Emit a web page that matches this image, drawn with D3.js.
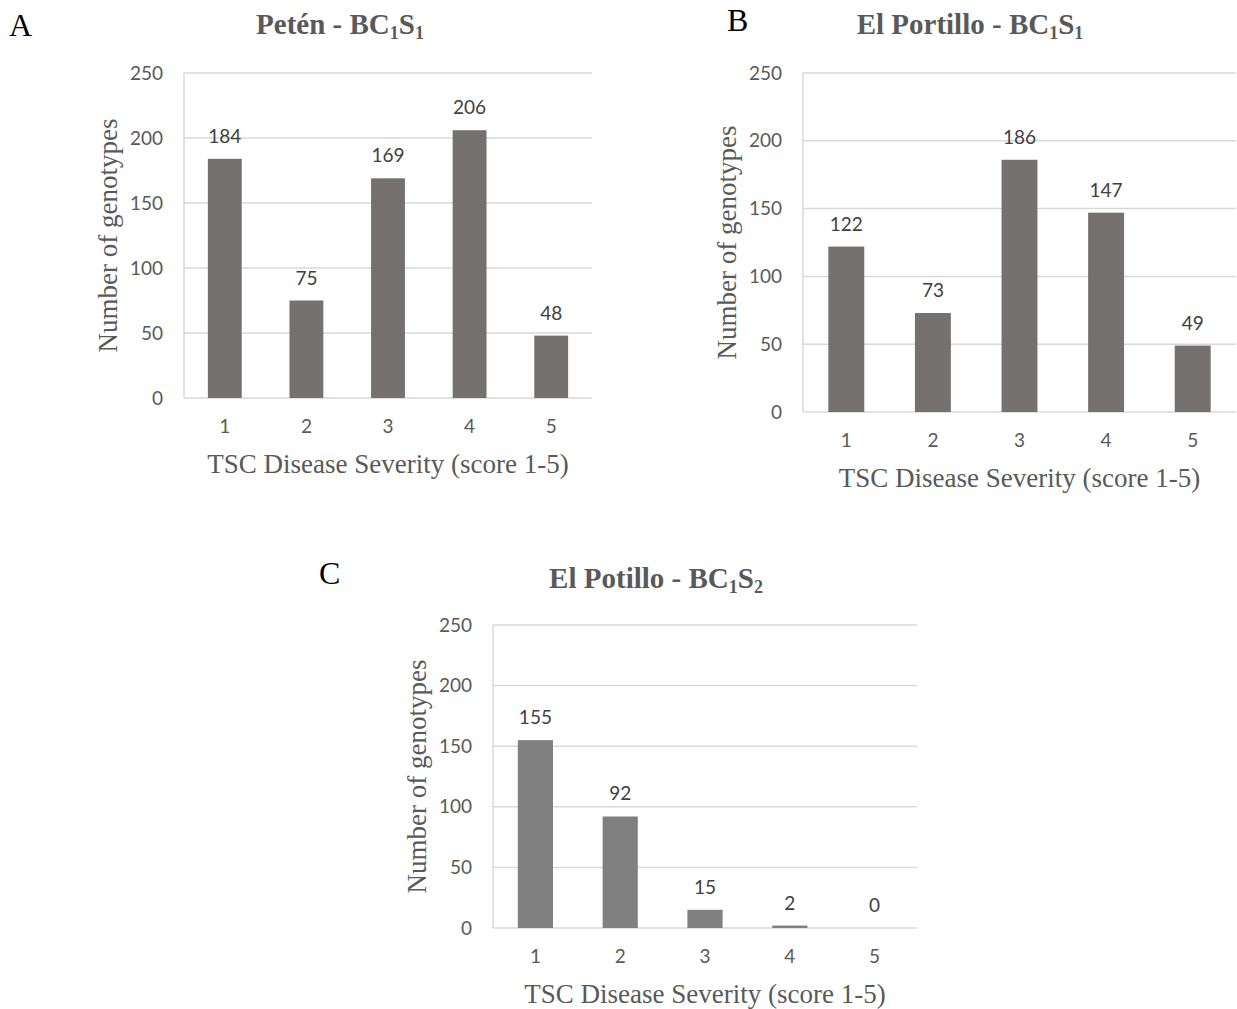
<!DOCTYPE html>
<html>
<head>
<meta charset="utf-8">
<script src="https://cdn.jsdelivr.net/npm/d3@7"></script>
<style>
  html, body { margin: 0; padding: 0; background: #fff; }
  svg { display: block; }
</style>
</head>
<body>
<svg id="chart" width="1237" height="1009"></svg>
<script>
// ---------------- data ----------------
const categories = ["1", "2", "3", "4", "5"];
const petenBC1S1 = [184, 75, 169, 206, 48];
const portilloBC1S1 = [122, 73, 186, 147, 49];
const potilloBC1S2 = [155, 92, 15, 2, 0];
const yTickValues = [0, 50, 100, 150, 200, 250];
const yMax = 250;
const xAxisTitle = "TSC Disease Severity (score 1-5)";
const yAxisTitle = "Number of genotypes";

const panels = [
  { letter: "A", place: "Petén", sub1: "1", sub2: "1", values: petenBC1S1,
    x0: 184, x1: 592, yTop: 73, yBot: 398, titleX: 340, titleY: 34, letterX: 9, letterY: 36,
    barColor: "#767171" },
  { letter: "B", place: "El Portillo", sub1: "1", sub2: "1", values: portilloBC1S1,
    x0: 803, x1: 1236, yTop: 73, yBot: 412, titleX: 970, titleY: 34, letterX: 727, letterY: 31,
    barColor: "#767171" },
  { letter: "C", place: "El Potillo", sub1: "1", sub2: "2", values: potilloBC1S2,
    x0: 493, x1: 917, yTop: 625, yBot: 928, titleX: 656, titleY: 588, letterX: 319, letterY: 584,
    barColor: "#808080" }
];

const svg = d3.select("#chart");
const sansFont = "Lato, 'Open Sans', sans-serif";
const serifFont = "'Liberation Serif', 'DejaVu Serif', serif";
const textGray = "#595959";

panels.forEach(p => {
  const g = svg.append("g");
  const x = d3.scaleBand().domain(categories).range([p.x0, p.x1])
    .paddingInner(0.585).paddingOuter(0.2925);
  const y = d3.scaleLinear().domain([0, yMax]).range([p.yBot, p.yTop]);

  // gridlines
  g.append("g")
    .selectAll("line").data(yTickValues).join("line")
    .attr("x1", p.x0).attr("x2", p.x1)
    .attr("y1", d => y(d)).attr("y2", d => y(d))
    .attr("stroke", "#d9d9d9").attr("stroke-width", 1.5);

  // left axis line
  g.append("line")
    .attr("x1", p.x0).attr("x2", p.x0).attr("y1", p.yTop).attr("y2", p.yBot)
    .attr("stroke", "#d9d9d9").attr("stroke-width", 1.5);

  // y tick labels via axis
  const yAxis = d3.axisLeft(y).tickValues(yTickValues).tickSize(0).tickPadding(21);
  const ya = g.append("g").attr("transform", `translate(${p.x0},0)`).call(yAxis);
  ya.select(".domain").remove();
  ya.selectAll("text").attr("font-family", sansFont).attr("font-size", 19)
    .attr("fill", textGray);

  // x tick labels via axis
  const xAxis = d3.axisBottom(x).tickSize(0).tickPadding(22);
  const xa = g.append("g").attr("transform", `translate(0,${p.yBot})`).call(xAxis);
  xa.select(".domain").remove();
  xa.selectAll("text").attr("font-family", sansFont).attr("font-size", 19)
    .attr("fill", textGray);

  // bars
  const data = categories.map((c, i) => ({ c, v: p.values[i] }));
  g.append("g").selectAll("rect").data(data).join("rect")
    .attr("x", d => x(d.c))
    .attr("width", x.bandwidth())
    .attr("y", d => y(d.v))
    .attr("height", d => p.yBot - y(d.v))
    .attr("fill", p.barColor);

  // value labels
  g.append("g").selectAll("text").data(data).join("text")
    .attr("x", d => x(d.c) + x.bandwidth() / 2)
    .attr("y", d => y(d.v) - 16)
    .attr("text-anchor", "middle")
    .attr("font-family", sansFont).attr("font-size", 19)
    .attr("fill", "#404040")
    .text(d => d.v);

  // axis titles
  g.append("text")
    .attr("x", (p.x0 + p.x1) / 2)
    .attr("y", p.yBot + 75)
    .attr("text-anchor", "middle")
    .attr("font-family", serifFont).attr("font-size", 27)
    .attr("fill", textGray)
    .text(xAxisTitle);

  g.append("text")
    .attr("transform", `translate(${p.x0 - 67},${(p.yTop + p.yBot) / 2}) rotate(-90)`)
    .attr("text-anchor", "middle")
    .attr("font-family", serifFont).attr("font-size", 27)
    .attr("fill", textGray)
    .text(yAxisTitle);

  // chart title with subscripts
  const t = g.append("text")
    .attr("x", p.titleX).attr("y", p.titleY)
    .attr("text-anchor", "middle")
    .attr("font-family", serifFont).attr("font-size", 29).attr("font-weight", "bold")
    .attr("fill", textGray);
  t.append("tspan").text(p.place + " - BC");
  t.append("tspan").attr("font-size", 18).attr("dy", 5).text(p.sub1);
  t.append("tspan").attr("dy", -5).text("S");
  t.append("tspan").attr("font-size", 18).attr("dy", 5).text(p.sub2);

  // panel letter
  g.append("text")
    .attr("x", p.letterX).attr("y", p.letterY)
    .attr("font-family", serifFont).attr("font-size", 32)
    .attr("fill", "#000")
    .text(p.letter);
});
</script>
</body>
</html>
